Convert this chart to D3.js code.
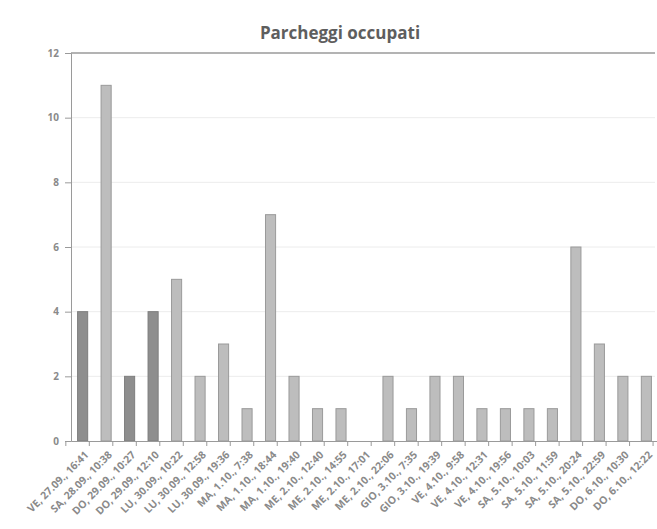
<!DOCTYPE html>
<html><head><meta charset="utf-8">
<script src="https://cdn.jsdelivr.net/npm/d3@7"></script>
<style>body{margin:0;background:#fff}svg{display:block}</style>
</head><body>
<script>
const categories = ["VE, 27.09., 16:41","SA, 28.09., 10:38","DO, 29.09., 10:27","DO, 29.09., 12:10","LU, 30.09., 10:22","LU, 30.09., 12:58","LU, 30.09., 19:36","MA, 1.10., 7:38","MA, 1.10., 18:44","MA, 1.10., 19:40","ME, 2.10., 12:40","ME, 2.10., 14:55","ME, 2.10., 17:01","ME, 2.10., 22:06","GIO, 3.10., 7:35","GIO, 3.10., 19:39","VE, 4.10., 9:58","VE, 4.10., 12:31","VE, 4.10., 19:56","SA, 5.10., 10:03","SA, 5.10., 11:59","SA, 5.10., 20:24","SA, 5.10., 22:59","DO, 6.10., 10:30","DO, 6.10., 12:22"];
const values = [4,11,2,4,5,2,3,1,7,2,1,1,0,2,1,2,2,1,1,1,1,6,3,2,2];
const yTicks = [0,2,4,6,8,10,12];
const title = "Parcheggi occupati";

const W=657,H=529;
const m={l:71,r:0,t:53,b:88};
const svg=d3.select("body").append("svg").attr("width",W).attr("height",H);
const x=d3.scaleBand().domain(categories).range([m.l,658]).paddingInner(0.57).paddingOuter(0.28);
const y=d3.scaleLinear().domain([0,12]).range([H-m.b,m.t]);
const darkIdx=new Set([0,2,3]);

svg.append("text").attr("x",340).attr("y",39).attr("text-anchor","middle")
  .attr("font-family","Open Sans, sans-serif").attr("font-weight","bold").attr("font-size",17)
  .attr("fill","#5e5e5e").text(title);

// gridlines
svg.append("g").selectAll("line").data(yTicks.filter(d=>d>0)).join("line")
  .attr("x1",m.l).attr("x2",655).attr("y1",d=>y(d)).attr("y2",d=>y(d))
  .attr("stroke",d=>d===12?"#9a9a9a":"#ececec").attr("stroke-width",d=>d===12?1.5:1);

// bars
svg.append("g").selectAll("rect").data(values).join("rect")
  .attr("x",(d,i)=>x(categories[i])).attr("width",x.bandwidth())
  .attr("y",d=>y(d)).attr("height",d=>y(0)-y(d))
  .attr("fill",(d,i)=>darkIdx.has(i)?"#8e8e8e":"#bdbdbd")
  .attr("stroke",(d,i)=>darkIdx.has(i)?"#7e7e7e":"#9a9a9a").attr("stroke-width",1);

// y axis
const ya=svg.append("g").attr("transform",`translate(${m.l},0)`)
  .call(d3.axisLeft(y).tickValues(yTicks).tickSize(6).tickPadding(6));
ya.select(".domain").attr("stroke","#9a9a9a");
ya.selectAll(".tick line").attr("stroke","#9a9a9a");
ya.selectAll("text").attr("fill","#8a8a8a").attr("font-family","Open Sans, sans-serif").attr("font-weight","bold").attr("font-size",10);

// x axis
const xa=svg.append("g").attr("transform",`translate(0,${y(0)})`)
  .call(d3.axisBottom(x).tickSize(0).tickPadding(0));
xa.select(".domain").attr("stroke","#9a9a9a");
xa.selectAll(".tick text").attr("fill","#8a8a8a").attr("font-family","Open Sans, sans-serif")
  .attr("font-weight","bold").attr("font-size",10.5)
  .attr("text-anchor","end").attr("dy","0.35em")
  .attr("transform","translate(4,12) rotate(-45)");
// boundary ticks
const step=x.step();
svg.append("g").selectAll("line").data(d3.range(categories.length+1)).join("line")
  .attr("x1",i=>x(categories[0])-step/2+i*step)
  .attr("x2",i=>x(categories[0])-step/2+i*step)
  .attr("y1",y(0)).attr("y2",y(0)+5).attr("stroke","#9a9a9a");
</script>
</body></html>
